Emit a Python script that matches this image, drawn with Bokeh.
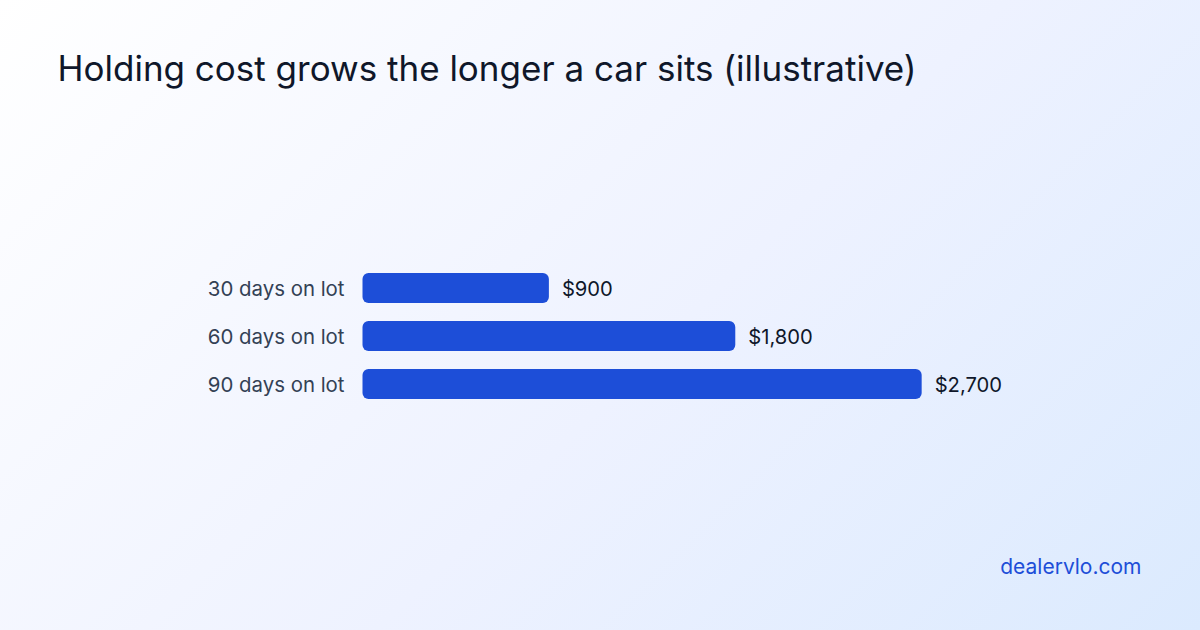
from bokeh.plotting import figure
from bokeh.models import ColumnDataSource, Range1d, Label
from bokeh.core.properties import value
from bokeh.embed import file_html
from bokeh.resources import INLINE

# ---- data ----
categories = ["30 days on lot", "60 days on lot", "90 days on lot"]
costs = [900, 1800, 2700]
cost_labels = ["$" + format(c, ",") for c in costs]
positions = list(range(len(categories)))

title_text = "Holding cost grows the longer a car sits (illustrative)"
footer_text = "dealervlo.com"

FONT = "Inter"
W, H = 1200, 630

# scale: ~0.2071 px per dollar, bars start at x=362 px
px_per_dollar = 0.2071
x0_px = 362
x_start = -x0_px / px_per_dollar
x_end = (W - x0_px) / px_per_dollar

# 48 px per bar slot, first bar centred 287.5 px from the top
slot = 48.0
first_center = 287.5
y_top = -first_center / slot
y_bottom = (H - first_center) / slot

p = figure(
    width=W, height=H,
    output_backend="svg", toolbar_location=None,
    x_range=Range1d(x_start, x_end),
    y_range=Range1d(y_bottom, y_top),
    x_axis_type=None, y_axis_type=None,
    min_border=0,
)
p.background_fill_alpha = 0
p.border_fill_alpha = 0
p.outline_line_color = None
p.xgrid.visible = False
p.ygrid.visible = False

src = ColumnDataSource(dict(y=positions, cost=costs, cat=categories, lab=cost_labels))

p.hbar(y="y", left=0, right="cost", height=0.625, source=src,
       fill_color="#1d4ed8", line_color=None, border_radius=6)

p.text(x=0, y="y", text="cat", source=src, x_offset=-18,
       text_align="right", text_baseline="middle",
       text_font=value(FONT), text_font_size="20.4px", text_color="#334155")

p.text(x="cost", y="y", text="lab", source=src, x_offset=13,
       text_align="left", text_baseline="middle",
       text_font=value(FONT), text_font_size="20.2px", text_color="#0f172a")

p.add_layout(Label(x=57, y=H - 67, x_units="screen", y_units="screen",
                   text=title_text, text_font=FONT, text_font_size="35px",
                   text_color="#0f172a", text_baseline="alphabetic", text_align="left"))

p.add_layout(Label(x=1141, y=H - 566, x_units="screen", y_units="screen",
                   text=footer_text, text_font=FONT, text_font_size="21px",
                   text_color="#1d4ed8", text_baseline="alphabetic", text_align="right"))

html = file_html(p, INLINE)
style = ("<style>html{height:100%;background:linear-gradient(135deg,#ffffff 0%,#eef2ff 55%,#dbeafe 100%);}"
         "body{background:transparent;overflow:hidden;}</style>")
html = html.replace("</head>", style + "</head>", 1)
open("out.html", "w").write(html)
